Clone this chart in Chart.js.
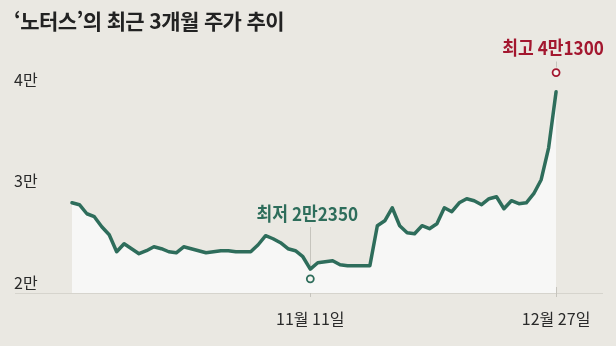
<!DOCTYPE html>
<html lang="ko">
<head>
<meta charset="utf-8">
<script src="https://cdn.jsdelivr.net/npm/chart.js@4.4.1/dist/chart.umd.min.js"></script>
<style>
  html, body { margin: 0; padding: 0; background: #EAE8E2; }
  .wrap { position: relative; width: 616px; height: 346px; overflow: hidden; }
  h1 { position: absolute; left: 14px; top: 5px; margin: 0; font: 700 21px "Noto Sans CJK KR"; letter-spacing: -0.6px; color: #222; white-space: nowrap; }
  canvas { position: absolute; left: 0; top: 0; }
</style>
</head>
<body>
<div class="wrap">
  <canvas id="c" width="616" height="346"></canvas>
  <h1>‘노터스’의 최근 3개월 주가 추이</h1>
</div>
<script>
// daily closing prices (won), about 3 months up to Dec 27
const prices = [
  28880, 28690, 27800, 27510, 26520, 25740, 24060, 24850, 24360, 23870,
  24160, 24550, 24360, 24060, 23960, 24550, 24360, 24160, 23960, 24060,
  24160, 24160, 24060, 24060, 24060, 24750, 25640, 25340, 24950, 24360,
  24160, 23570, 22350, 22980, 23080, 23180, 22780, 22690, 22690, 22690,
  22690, 26620, 27110, 28390, 26620, 25930, 25830, 26620, 26330, 26820,
  28390, 28000, 28880, 29280, 29080, 28690, 29280, 29470, 28290, 29080,
  28790, 28880, 29770, 31150, 34290, 39800
];
const xTickIndex = [32, 65];
const xTickLabels = ['11월 11일', '12월 27일'];
const yTickValues = [20000, 30000, 40000];
const yTickLabels = ['2만', '3만', '4만'];

// low / high callouts
const lowIndex = 32, lowMarker = 21400, lowText = '최저 2만2350';
const highIndex = 65, highMarker = 41700, highText = '최고 4만1300';

const green = '#2E6D5B';
const red = '#A3172F';

const overlay = {
  id: 'overlay',
  beforeDatasetsDraw(chart) {
    const { ctx, scales: { x, y } } = chart;
    ctx.save();
    ctx.strokeStyle = '#C6C4BD';
    ctx.lineWidth = 1;
    const xl = Math.round(x.getPixelForValue(lowIndex)) + 0.5;
    const yl = y.getPixelForValue(lowMarker);
    ctx.beginPath();
    ctx.moveTo(xl, 227); ctx.lineTo(xl, yl - 4);
    ctx.moveTo(xl, yl + 4); ctx.lineTo(xl, 297);
    const xh = Math.round(x.getPixelForValue(highIndex)) + 0.5;
    const yh = y.getPixelForValue(highMarker);
    ctx.moveTo(xh, 287); ctx.lineTo(xh, 297);
    ctx.moveTo(xh, yh - 11); ctx.lineTo(xh, yh - 5);
    ctx.stroke();
    ctx.restore();
  },
  afterDraw(chart) {
    const { ctx, scales: { x, y } } = chart;
    ctx.save();
    ctx.fillStyle = '#2A2A2A';
    ctx.font = '400 16px "Noto Sans CJK KR"';
    ctx.textAlign = 'left';
    ctx.textBaseline = 'alphabetic';
    yTickValues.forEach((v, i) => {
      ctx.fillText(yTickLabels[i], 14, y.getPixelForValue(v) - 4);
    });
    ctx.textAlign = 'center';
    ctx.textBaseline = 'middle';
    xTickIndex.forEach((v, i) => {
      ctx.fillText(xTickLabels[i], x.getPixelForValue(v), 319);
    });

    const drawNarrow = (text, cx, cy, color) => {
      ctx.save();
      ctx.translate(cx, cy);
      ctx.scale(0.9, 1);
      ctx.fillStyle = color;
      ctx.font = '700 19px "Noto Sans CJK KR"';
      ctx.fillText(text, 0, 0);
      ctx.restore();
    };
    drawNarrow(lowText, x.getPixelForValue(lowIndex) - 3, 214, green);
    drawNarrow(highText, x.getPixelForValue(highIndex) - 3, 48, red);
    ctx.restore();
  }
};

new Chart(document.getElementById('c'), {
  type: 'line',
  data: {
    datasets: [
      {
        data: prices.map((v, i) => ({ x: i, y: v })),
        borderColor: green,
        borderWidth: 3.5,
        borderJoinStyle: 'round',
        borderCapStyle: 'round',
        backgroundColor: '#F7F7F6',
        fill: { value: 20000 },
        tension: 0,
        pointRadius: 0,
        order: 2
      },
      {
        data: [{ x: lowIndex, y: lowMarker }, { x: highIndex, y: highMarker }],
        showLine: false,
        pointRadius: 3.5,
        pointBorderWidth: 1.8,
        pointBackgroundColor: '#F7F6F2',
        pointBorderColor: [green, red],
        order: 1
      }
    ]
  },
  options: {
    responsive: false,
    animation: false,
    layout: { padding: { left: 15, right: 13, top: 39, bottom: 53 } },
    plugins: { legend: { display: false }, tooltip: { enabled: false } },
    scales: {
      x: {
        type: 'linear',
        min: -7.65,
        max: 71.3,
        display: false
      },
      y: {
        min: 20000,
        max: 45000,
        border: { display: false },
        ticks: { display: false, stepSize: 10000 },
        grid: {
          drawTicks: false,
          color: (c) => (yTickValues.includes(c.tick.value) ? '#D6D4CD' : 'transparent'),
          lineWidth: 1
        }
      }
    }
  },
  plugins: [overlay]
});
</script>
</body>
</html>
